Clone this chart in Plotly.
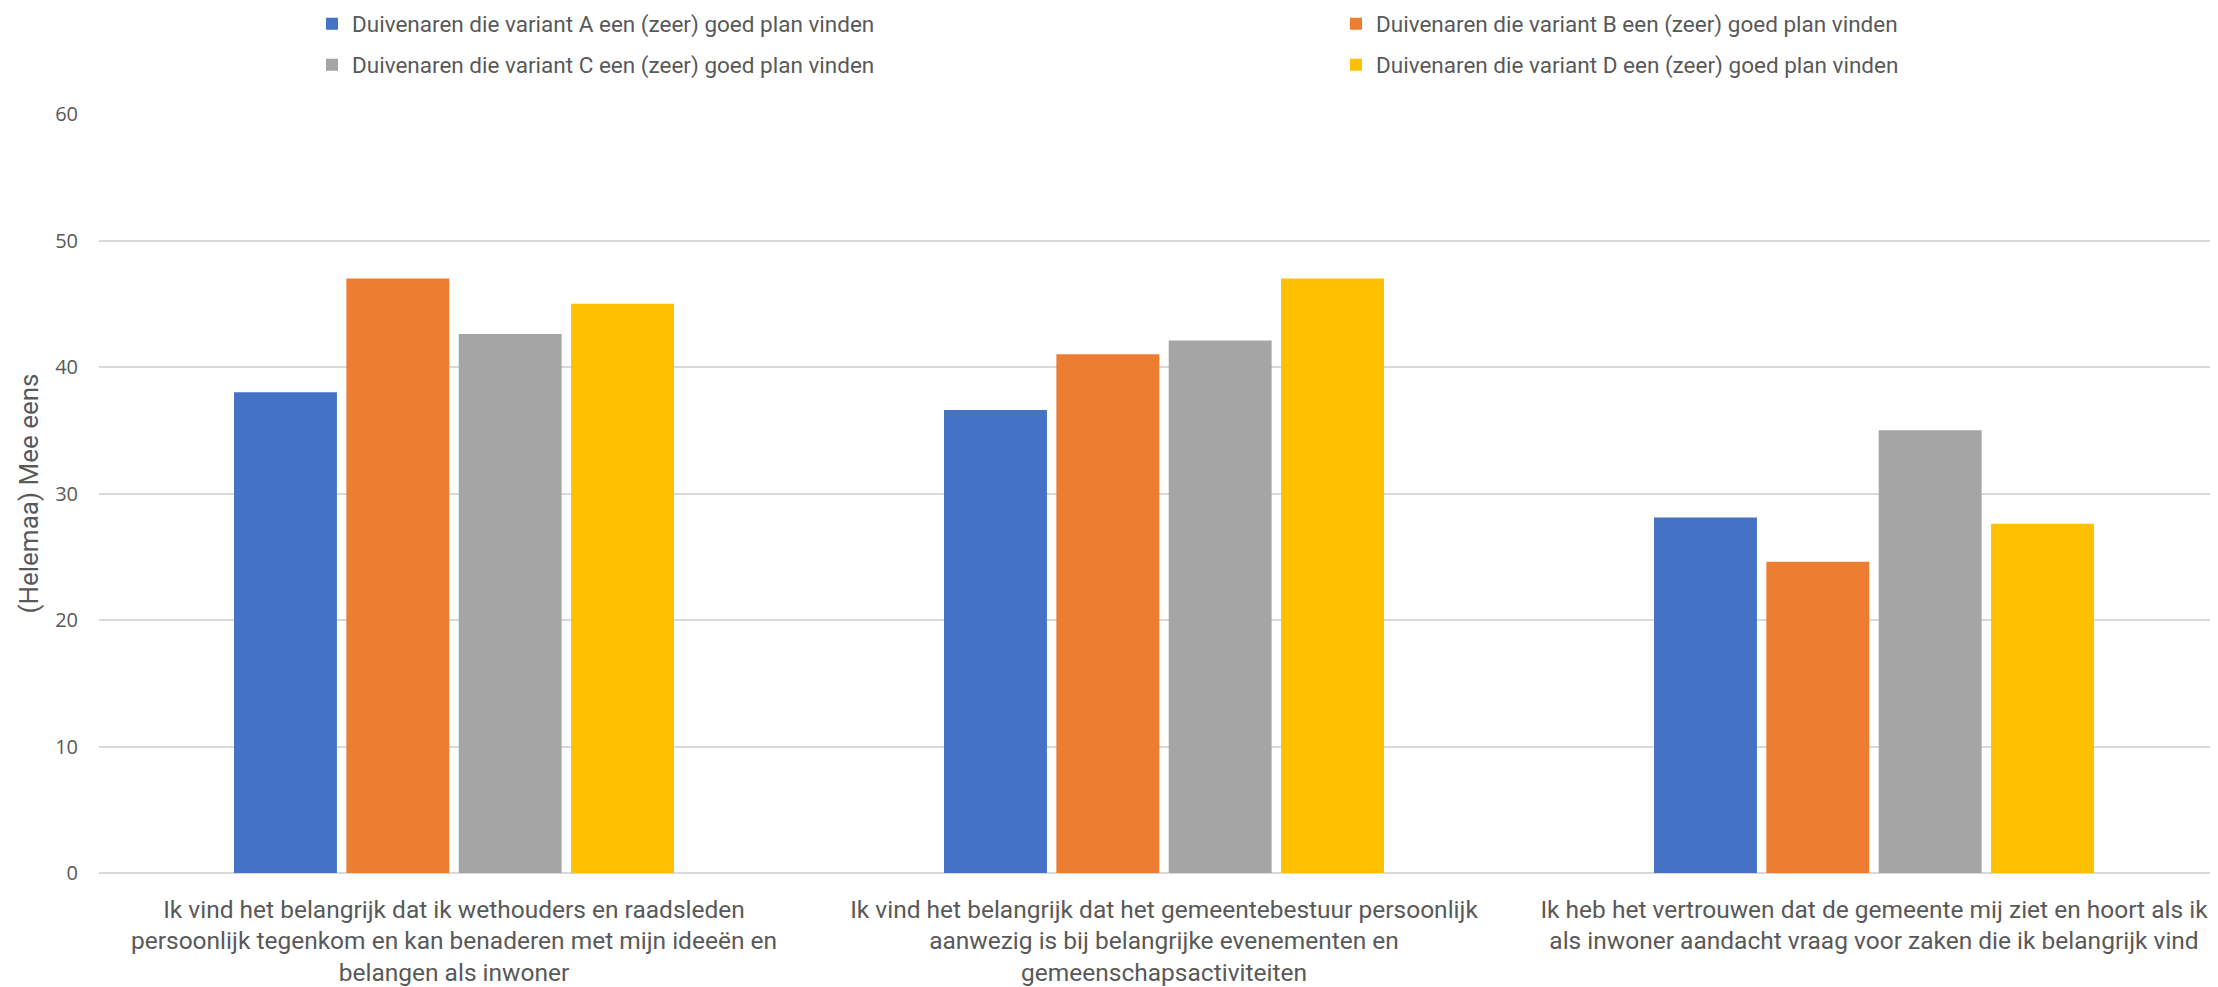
import plotly.graph_objects as go

categories = [
    "Ik vind het belangrijk dat ik wethouders en raadsleden<br>persoonlijk tegenkom en kan benaderen met mijn ideeën en<br>belangen als inwoner",
    "Ik vind het belangrijk dat het gemeentebestuur persoonlijk<br>aanwezig is bij belangrijke evenementen en<br>gemeenschapsactiviteiten",
    "Ik heb het vertrouwen dat de gemeente mij ziet en hoort als ik<br>als inwoner aandacht vraag voor zaken die ik belangrijk vind",
]

series_names = [
    "Duivenaren die variant A een (zeer) goed plan vinden",
    "Duivenaren die variant B een (zeer) goed plan vinden",
    "Duivenaren die variant C een (zeer) goed plan vinden",
    "Duivenaren die variant D een (zeer) goed plan vinden",
]

values_a = [38.0, 36.6, 28.1]
values_b = [47.0, 41.0, 24.6]
values_c = [42.6, 42.1, 35.0]
values_d = [45.0, 47.0, 27.6]

y_ticks = [0, 10, 20, 30, 40, 50, 60]
y_title = "(Helemaa) Mee eens"

colors = ["#4472C4", "#ED7D31", "#A5A5A5", "#FFC000"]
legend_ids = ["legend", "legend3", "legend2", "legend4"]
all_values = [values_a, values_b, values_c, values_d]

W, H = 2218, 987
OFF = 8  # default page body margin
TEXT = "#595959"

# target page-pixel layout
PL, PT, PB = 99, 114, 873
ml = PL - OFF
mt = PT - OFF
mb = H - (PB - OFF)
mr = OFF
plot_w = W - ml - mr

fig = go.Figure()
for name, vals, col, lg in zip(series_names, all_values, colors, legend_ids):
    fig.add_trace(go.Bar(
        x=categories, y=vals, name=name,
        marker=dict(color=col, line=dict(width=0)),
        legend=lg,
    ))

def leg(x_px, y_px):
    return dict(
        xref="container", yref="container",
        x=(x_px - OFF) / W, y=1 - (y_px - OFF) / H,
        xanchor="left", yanchor="middle",
        orientation="v",
        font=dict(family="Roboto", size=22.5, color=TEXT),
        bgcolor="rgba(0,0,0,0)",
        borderwidth=0,
    )

fig.update_layout(
    width=W, height=H,
    paper_bgcolor="white", plot_bgcolor="white",
    margin=dict(l=ml, r=mr, t=mt, b=mb, autoexpand=False),
    barmode="group",
    bargap=0.367,
    bargroupgap=0.084,
    showlegend=True,
    legend=leg(312, 24),
    legend2=leg(312, 65),
    legend3=leg(1336, 24),
    legend4=leg(1336, 65),
    font=dict(family="Roboto", color=TEXT),
    annotations=[dict(
        text=y_title, textangle=-90,
        xref="paper", yref="paper",
        x=(28 - PL) / plot_w, y=0.5,
        xanchor="center", yanchor="middle",
        showarrow=False,
        font=dict(family="Roboto", size=26, color=TEXT),
    )],
)

fig.update_xaxes(
    type="category",
    range=[-0.5, 2.4845],
    showgrid=False,
    showline=False,
    ticks="",
    tickfont=dict(family="Roboto", size=24.5, color=TEXT),
    ticklabelstandoff=19,
    automargin=False,
)

fig.update_yaxes(
    range=[0, 60],
    tickvals=y_ticks,
    showgrid=True, gridcolor="#D9D9D9", gridwidth=1.5,
    zeroline=True, zerolinecolor="#D9D9D9", zerolinewidth=2,
    showline=False,
    ticks="",
    tickfont=dict(family="Open Sans", size=20, color=TEXT),
    ticklabelstandoff=20,
    automargin=False,
)

fig.write_html("out.html")
